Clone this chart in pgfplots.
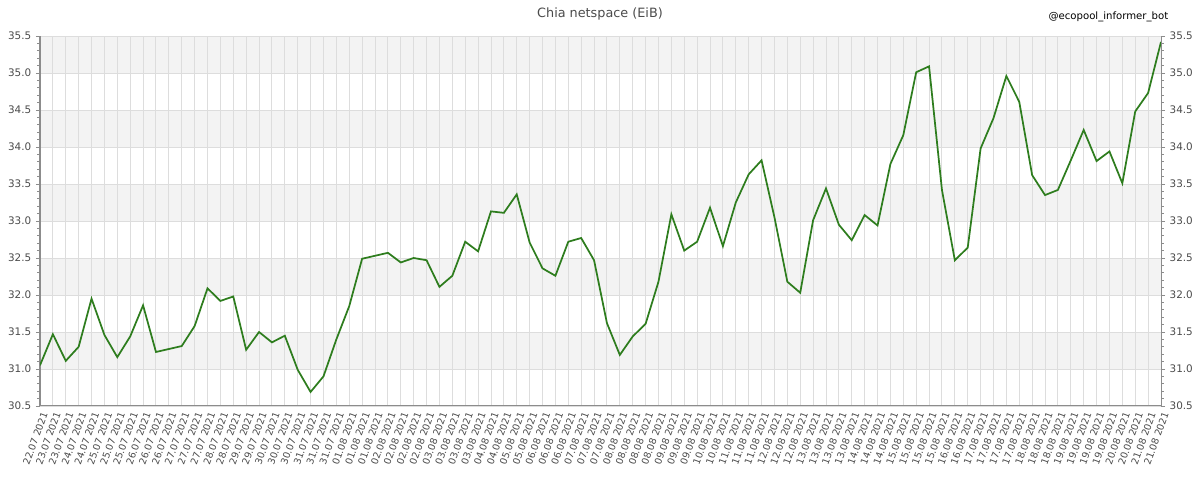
\documentclass[border=0pt]{standalone}
\usepackage{fontspec}
\setmainfont{DejaVu Sans}
\usepackage{pgfplots}
\pgfplotsset{compat=1.18}
\definecolor{netgreen}{RGB}{46,125,30}
\definecolor{gridgray}{RGB}{221,221,221}
\definecolor{bandgray}{RGB}{243,243,243}
\definecolor{axisgray}{RGB}{140,140,140}
\definecolor{labelgray}{RGB}{75,75,75}

\pgfplotsset{
  netaxis/.style={
    at={(0,0)}, anchor=south west,
    scale only axis, width=840.75pt, height=277.5pt,
    xmin=0, xmax=87, ymin=30.5, ymax=35.5,
    ytick={30.5,31,31.5,32,32.5,33,33.5,34,34.5,35,35.5},
    minor y tick num=4,
    tick align=outside,
    major tick length=3pt, minor tick length=2.2pt,
    axis line style={axisgray, line width=0.75pt},
    every tick/.style={axisgray, line width=0.6pt},
    yticklabel style={labelgray, font=\fontsize{7.8}{9}\selectfont,
      /pgf/number format/fixed,
      /pgf/number format/fixed zerofill,
      /pgf/number format/precision=1,
      /pgf/number format/assume math mode=true},
  },
}

\begin{document}
\begin{tikzpicture}
\begin{axis}[
  netaxis,
  set layers,
  axis x line*=bottom, axis y line*=left,
  xtick=data,
  xtick style={draw=none},
  xticklabels={
    {22.07 2021},{23.07 2021},{23.07 2021},{24.07 2021},{24.07 2021},
    {25.07 2021},{25.07 2021},{25.07 2021},{26.07 2021},{26.07 2021},
    {26.07 2021},{27.07 2021},{27.07 2021},{27.07 2021},{28.07 2021},
    {28.07 2021},{29.07 2021},{29.07 2021},{30.07 2021},{30.07 2021},
    {30.07 2021},{31.07 2021},{31.07 2021},{31.07 2021},{01.08 2021},
    {01.08 2021},{01.08 2021},{02.08 2021},{02.08 2021},{02.08 2021},
    {02.08 2021},{03.08 2021},{03.08 2021},{03.08 2021},{03.08 2021},
    {04.08 2021},{04.08 2021},{05.08 2021},{05.08 2021},{06.08 2021},
    {06.08 2021},{06.08 2021},{07.08 2021},{07.08 2021},{07.08 2021},
    {08.08 2021},{08.08 2021},{08.08 2021},{08.08 2021},{09.08 2021},
    {09.08 2021},{09.08 2021},{10.08 2021},{10.08 2021},{11.08 2021},
    {11.08 2021},{11.08 2021},{12.08 2021},{12.08 2021},{12.08 2021},
    {13.08 2021},{13.08 2021},{13.08 2021},{13.08 2021},{14.08 2021},
    {14.08 2021},{14.08 2021},{15.08 2021},{15.08 2021},{15.08 2021},
    {15.08 2021},{16.08 2021},{16.08 2021},{17.08 2021},{17.08 2021},
    {17.08 2021},{17.08 2021},{18.08 2021},{18.08 2021},{18.08 2021},
    {19.08 2021},{19.08 2021},{19.08 2021},{19.08 2021},{20.08 2021},
    {20.08 2021},{21.08 2021},{21.08 2021}},
  xticklabel style={labelgray, rotate=70, anchor=east,
    font=\fontsize{7.2}{8}\selectfont, inner sep=0.5pt, yshift=-4pt},
  grid=major,
  major grid style={gridgray, line width=0.7pt},
]
% alternating bands behind the grid
\begin{pgfonlayer}{axis background}
  \fill[bandgray] (axis cs:0,31) rectangle (axis cs:87,31.5);
  \fill[bandgray] (axis cs:0,32) rectangle (axis cs:87,32.5);
  \fill[bandgray] (axis cs:0,33) rectangle (axis cs:87,33.5);
  \fill[bandgray] (axis cs:0,34) rectangle (axis cs:87,34.5);
  \fill[bandgray] (axis cs:0,35) rectangle (axis cs:87,35.5);
\end{pgfonlayer}
\addplot[netgreen, line width=1.3pt, no marks] coordinates {
  (0,31.05) (1,31.47) (2,31.11) (3,31.30) (4,31.95) (5,31.46) (6,31.16)
  (7,31.44) (8,31.86) (9,31.23) (10,31.27) (11,31.31) (12,31.58) (13,32.09)
  (14,31.92) (15,31.98) (16,31.26) (17,31.50) (18,31.36) (19,31.45) (20,30.99)
  (21,30.69) (22,30.90) (23,31.40) (24,31.85) (25,32.49) (26,32.53) (27,32.57)
  (28,32.44) (29,32.50) (30,32.47) (31,32.11) (32,32.26) (33,32.72) (34,32.59)
  (35,33.13) (36,33.11) (37,33.36) (38,32.71) (39,32.36) (40,32.26) (41,32.72)
  (42,32.77) (43,32.47) (44,31.62) (45,31.19) (46,31.44) (47,31.61) (48,32.18)
  (49,33.09) (50,32.60) (51,32.72) (52,33.18) (53,32.66) (54,33.25) (55,33.63)
  (56,33.82) (57,33.05) (58,32.18) (59,32.03) (60,33.01) (61,33.44) (62,32.95)
  (63,32.74) (64,33.08) (65,32.94) (66,33.77) (67,34.16) (68,35.01) (69,35.09)
  (70,33.42) (71,32.47) (72,32.64) (73,33.98) (74,34.39) (75,34.96) (76,34.61)
  (77,33.62) (78,33.35) (79,33.42) (80,33.82) (81,34.23) (82,33.81) (83,33.94)
  (84,33.51) (85,34.48) (86,34.73) (87,35.42)
};
\end{axis}
% right-hand value axis
\begin{axis}[
  netaxis,
  axis x line=none, axis y line*=right,
]
\addplot[draw=none] coordinates {(0,30.5) (87,35.5)};
\end{axis}
\node[font=\fontsize{9.6}{12}\selectfont, text=labelgray] at (420pt,294pt) {Chia netspace (EiB)};
\node[anchor=east, font=\fontsize{7.6}{9}\selectfont] at (849.75pt,291.75pt) {@ecopool\_informer\_bot};
\pgfresetboundingbox
\path[use as bounding box] (-30pt,-70.5pt) rectangle (870pt,304.5pt);
\end{tikzpicture}
\end{document}
